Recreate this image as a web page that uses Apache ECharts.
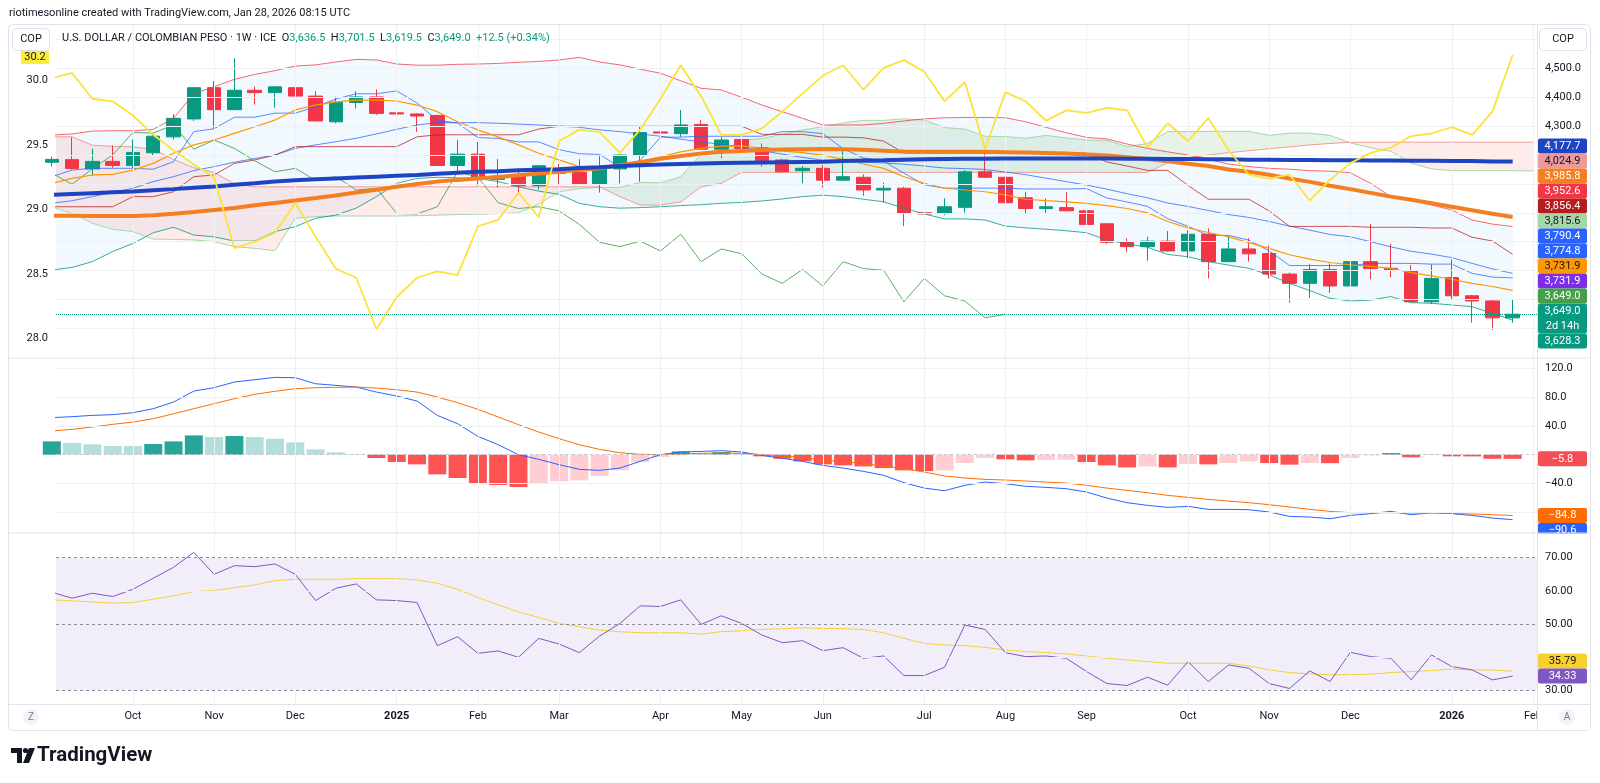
<!DOCTYPE html>
<html>
<head>
<meta charset="utf-8">
<title>USD/COP weekly</title>
<script src="https://cdn.jsdelivr.net/npm/echarts@6.0.0/dist/echarts.min.js"></script>
<style>
html,body{margin:0;padding:0;background:#ffffff;}
#chart{width:1600px;height:783px;}
</style>
</head>
<body>
<div id="chart"></div>
<script>
// ================= DATA (weekly bars from 2024-09-09) =================
const firstWeekUTC = Date.UTC(2024, 8, 9);
const opens  = [4175,4184,4152,4178,4164,4208,4263,4325,4433,4357,4424,4416,4433,4404,4315,4382,4401,4346,4342,4337,4164,4203,4116,4127,4094,4154,4140,4099,4152,4200,4280,4274,4306,4220,4254,4225,4183,4146,4154,4113,4123,4079,4085,4000,3998,4019,4142,4123,4052,4015,4018,4007,3962,3900,3883,3902,3868,3926,3831,3875,3859,3788,3756,3804,3747,3831,3808,3800,3692,3776,3713,3695,3636.5];
const highs  = [4195,4261,4222,4233,4254,4275,4342,4435,4456,4535,4437,4438,4479,4421,4402,4421,4427,4373,4345,4340,4252,4245,4186,4142,4166,4169,4186,4200,4202,4299,4460,4356,4321,4263,4321,4240,4187,4162,4165,4217,4133,4104,4090,4067,4050,4148,4211,4125,4073,4050,4071,4038,3964,3912,3917,3937,3940,3946,3920,3912,3886,3793,3822,3825,3848,3961,3893,3819,3822,3839,3716,3701,3701.5];
const lows   = [4160,4150,4127,4156,4156,4199,4254,4318,4289,4355,4375,4364,4383,4316,4310,4361,4339,4312,4280,4162,4142,4094,4088,4064,4081,4099,4097,4070,4102,4108,4272,4263,4218,4189,4221,4160,4140,4102,4088,4111,4059,4036,3954,3990,3992,4000,4121,4021,3998,3998,4005,3957,3892,3864,3834,3866,3843,3773,3829,3831,3773,3689,3706,3723,3730,3770,3777,3689,3684,3701,3620,3594,3619.5];
const closes = [4185,4153,4178,4164,4209,4265,4327,4433,4357,4424,4416,4436,4404,4318,4383,4401,4344,4342,4335,4164,4203,4116,4127,4094,4163,4137,4099,4152,4200,4278,4276,4304,4220,4252,4223,4180,4142,4154,4113,4125,4079,4085,3998,3996,4021,4142,4123,4035,4015,4021,4007,3960,3898,3883,3902,3868,3926,3831,3875,3858,3788,3756,3804,3747,3831,3807,3801,3692,3773,3713,3695,3636.5,3649];

// Bollinger Bands
const bbUpper = [4269,4273,4283,4284,4284,4289,4327,4413,4436,4462,4479,4492,4508,4512,4522,4531,4529,4515,4511,4511,4514,4515,4517,4521,4524,4529,4538,4522,4512,4497,4483,4457,4431,4425,4400,4373,4350,4327,4304,4304,4304,4310,4318,4325,4329,4330,4330,4329,4315,4296,4277,4261,4256,4238,4223,4211,4200,4185,4169,4160,4154,4151,4146,4144,4139,4102,4056,4044,4027,4010,3975,3961,3952.6];
const bbBasis = [4033,4042,4056,4070,4085,4108,4125,4146,4160,4175,4188,4200,4223,4235,4246,4258,4273,4289,4304,4312,4312,4312,4310,4307,4304,4300,4296,4287,4281,4273,4265,4255,4245,4237,4228,4215,4203,4192,4182,4178,4175,4173,4168,4162,4155,4153,4150,4141,4132,4120,4108,4096,4082,4066,4052,4034,4022,4008,3994,3984,3970,3954,3940,3925,3917,3900,3882,3867,3857,3845,3825,3806,3790.4];
const bbLower = [3802,3811,3831,3866,3894,3931,3950,3923,3917,3902,3902,3935,3952,3981,3992,4016,4056,4102,4119,4123,4121,4119,4108,4090,4075,4064,4033,4021,4016,4018,4021,4025,4028,4033,4036,4041,4048,4056,4061,4056,4047,4038,4016,3996,3979,3979,3975,3954,3948,3943,3938,3931,3906,3892,3881,3856,3848,3831,3819,3808,3785,3756,3731,3704,3695,3698,3710,3689,3687,3681,3675,3652,3628.3];

// Ichimoku
const tenkan = [4125,4148,4154,4154,4154,4151,4177,4281,4291,4331,4331,4345,4345,4367,4394,4412,4412,4422,4380,4320.5,4310.5,4260.5,4257.5,4245.5,4245.5,4218.5,4204.5,4202,4158,4181.5,4262,4262,4265,4265,4265,4265,4281,4281,4274,4222,4190,4178.5,4137.5,4097,4085.5,4085.5,4085.5,4085.5,4082.5,4082.5,4082.5,4084,4051.5,4037.5,4022.5,3979.5,3953.5,3922,3922,3905.5,3868.5,3817.5,3817.5,3817.5,3817.5,3825,3825,3825,3822.5,3822.5,3790.5,3777.5,3774.8];
const kijun  = [4021,4021,4021,4021,4056,4056,4073,4125,4131,4171,4183,4200,4229,4229,4229,4229,4229,4229,4263,4270,4270,4270,4270,4270,4290,4299.5,4299.5,4299.5,4299.5,4299.5,4299.5,4299.5,4299.5,4299.5,4299.5,4271.5,4271.5,4271.5,4262,4262,4259.5,4248,4207,4207,4207,4207,4207,4207,4207,4207,4207,4207,4176,4162,4147,4147,4095,4047,4047,4047,4006.5,3953,3953,3953,3953,3950,3950,3950,3947.5,3947.5,3915.5,3902.5,3856.4];
const senkouA = [4021,3998,3964,3943,3935,3909,3908,3906,3900,3883,3877,3869,3981,3987,3989,3989,3989,3989,3990,3992,3994,3995,3997,4000,4030,4073,4084,4088,4088,4105,4104,4125,4203,4211,4251,4257,4272,4287,4298,4311,4320,4320,4325,4321,4295,4290,4265,4264,4258,4268,4259,4252,4251,4229,4240,4281,4281,4282,4282,4282,4268,4276,4276,4268,4242,4225,4213,4172,4152,4146,4146,4146,4146,4145];
const senkouB = [4263,4263,4234,4230,4228,4220,4185,4156,4140,4100,4090,4090,4090,4090,4090,4090,4090,4090,4090,4090,4090,4090,4090,4090,4090,4090,4090,4090,4056,4027,4027,4038,4090,4102,4140,4140,4140,4140,4140,4140,4140,4140,4140,4140,4140,4140,4140,4140,4140,4140,4140,4140,4140,4140,4140,4173,4189,4200,4208,4215,4222,4228,4235,4240,4244,4244.5,4244.5,4244.5,4244.5,4244.5,4244.5,4244.5,4244.5,4244.5];
const senkouANow = 3815.6, senkouBNow = 4024.9;
const laggingShift = 25;

// Moving averages
const emaShort = [4102,4119,4131,4133,4148,4171,4206,4235,4252,4275,4298,4321,4356,4373,4384,4390,4390,4387,4373,4350,4315,4287,4263,4235,4206,4183,4160,4154,4160,4177,4194,4211,4223,4231,4232,4223,4214,4208,4200,4185,4169,4154,4125,4102,4085,4079,4073,4062,4047,4042,4038,4033,4025,4015,4000,3970,3948,3932,3917,3897,3877,3855,3840,3828,3820,3815,3808,3793,3782,3770,3756,3745,3731.9];
const extraMaNow = 3731.9;
const maMid  = [3990,3990,3989,3989,3989,3992,3997,4003,4010,4017,4026,4034,4043,4051,4060,4070,4080,4090,4100,4108,4114,4119,4124,4130,4136,4142,4148,4154,4165,4175,4187,4197,4205,4211,4214,4217,4219,4220,4221,4220,4218,4215,4212,4211,4211,4211,4211,4210,4209,4207,4205,4202,4198,4192,4186,4178,4170,4162,4150,4142,4132,4119,4107,4094,4082,4069,4056,4045,4033,4021,4009,3997,3985.8];
const maLong = [4062,4065,4068,4071,4074,4078,4082,4087,4091,4097,4102,4108,4113,4116,4119,4122,4125,4128,4131,4135,4139,4142,4144,4147,4149,4151,4155,4158,4162,4165,4167,4169,4171,4172,4173,4174,4175,4176,4177,4179,4181,4182,4184,4185,4186,4187,4187,4188,4188,4188,4188,4188,4188,4187,4187,4186,4186,4185,4185,4184,4184,4183,4183,4182,4182,4181,4181,4180,4180,4179,4179,4178,4177.7];

// Comparison line (left scale)
const compLine = [30.02,30.06,29.86,29.84,29.73,29.58,29.46,29.35,29.25,28.70,28.75,28.82,29.05,28.79,28.54,28.47,28.07,28.32,28.47,28.52,28.49,28.87,28.92,29.13,28.94,29.53,29.62,29.60,29.44,29.62,29.86,30.12,29.88,29.58,29.58,29.63,29.76,29.90,30.04,30.12,29.93,30.10,30.16,30.07,29.84,29.99,29.47,29.91,29.84,29.69,29.77,29.75,29.79,29.77,29.48,29.67,29.53,29.71,29.46,29.27,29.24,29.27,29.07,29.23,29.36,29.44,29.48,29.57,29.59,29.64,29.58,29.76,30.2];

// MACD
const macdLine = [51.6,53,54.8,55.8,58.5,64.1,73.4,88.7,93.4,101.3,104.5,107.8,107.3,98.9,96.6,94.3,87.3,81.8,74.8,54.8,43.2,25.6,13.9,0,-6.5,-13.9,-20.4,-21.8,-18.6,-9.3,0,3.7,4.6,5.6,3.7,-0.9,-5,-9.3,-14.9,-18.6,-23.2,-28.8,-39,-46.5,-50.2,-42.7,-38.1,-40.4,-44.1,-45.5,-47.4,-52,-60.4,-66.9,-70.6,-73.4,-72,-76.2,-76.2,-76.7,-79.9,-86,-86.9,-89.2,-84.6,-82.2,-79,-83.6,-80.8,-82.2,-84.6,-88.3,-90.6];
const signalLine = [33,35.3,38.6,42.3,45.5,50.2,57.1,64.1,71.1,78.1,84.1,88.3,92,93.4,93.8,94.3,92.9,90.6,87.3,80.4,72.5,63.2,52.5,41.8,31.6,22.3,13.9,7.4,2.8,0.5,0,0.9,1.9,2.3,1.9,0,-1.5,-3.7,-7.9,-9.3,-12.5,-15.8,-19.5,-24.2,-29.7,-32.5,-34.4,-35.3,-36.7,-38.1,-39.5,-42.7,-46.5,-49.7,-53,-56.7,-59.5,-62.3,-64.6,-66.9,-69.7,-72.9,-76.2,-79,-80.8,-80.8,-80.8,-81.3,-81.3,-81.8,-82.7,-83.6,-84.8];
const histogram = [18.6,16.3,14.4,12.1,12.0,14.9,18.6,26.9,24.6,26,24.6,22.3,17.2,7.4,3.3,0.9,-4.6,-10.2,-13.5,-27.4,-32.5,-40,-42.3,-45.1,-40,-37.2,-35.8,-29.7,-21.8,-10.2,-3.3,4.6,2.3,3.7,1.9,-2.3,-5.6,-9.3,-13.5,-14.9,-16.3,-18.6,-21.8,-22.8,-21.8,-11.6,-4.6,-6.5,-7.9,-7.5,-7.0,-10.2,-14.9,-17.7,-16.3,-17.7,-13.0,-13.5,-11.6,-9.3,-11.6,-13.9,-11.6,-11.8,-4.6,-1.0,2.3,-3.7,0.4,-2.3,-2.4,-5.7,-5.8];

// RSI
const rsiLine = [59.6,57.8,59.3,58.3,60.5,63.8,67.1,71.6,65,67.6,67.3,68.1,65,57.1,60.8,62.1,57.3,57.1,56.5,43.5,46.2,41.2,41.9,40,45.7,44,41.4,46.4,50.2,55.5,55.3,57.3,49.9,52.5,50.2,46.7,44.4,45,42,42.9,39.7,40.4,34.5,34.5,37,49.7,48.4,41.4,40.2,40.4,39.7,35.7,32.1,31.5,34,31.6,38.7,32.7,37.7,36.7,32.1,30.6,35.9,32.7,41.5,40.2,39.7,33.2,40.7,37.2,36.2,33.2,34.33];
const rsiMaLine = [57.3,57,56.7,56.3,56.5,57.5,58.5,59.8,60.1,61,61.8,63.1,63.5,63.5,63.5,63.7,63.7,63.7,63.3,62.3,60.5,58,55.8,53.7,52,50.2,49.2,48.2,47.7,47.4,47.4,47.4,47,47.7,48,48.4,48.6,48.9,48.7,48.6,48.4,47.4,45.7,44.2,43.7,43.5,43,42.2,41.7,41.4,41,40.4,39.7,39.2,38.7,38.2,38.2,38.2,38.2,37.4,36.2,35.4,35,34.7,34.8,34.9,35.4,35.7,36,36.4,36.2,36.2,35.79];

// Axis tick labels
const priceTicks = [4300, 4400, 4500];
const priceGrid = [3600, 3700, 3800, 3900, 4000, 4100, 4200, 4300, 4400, 4500, 4600];
const compTicks = [28, 28.5, 29, 29.5, 30];
const macdTicks = [120, 80, 40, -40];
const macdGrid = [120, 80, 40, -40, -80];
const rsiTicks = [70, 60, 50, 30];
const rsiGrid = [60, 40];
const rsiBands = [70, 50, 30];
const countdownText = '2d 14h';

// ================= BUILD =================
const FONT = 'Roboto, "Noto Sans", Arial, sans-serif';
const TXT = '#131722';
const N = closes.length;
const X_MIN = 0.207, X_MAX = 73.2;
const WEEK = 7 * 86400000;
const monthAbbr = ['Jan','Feb','Mar','Apr','May','Jun','Jul','Aug','Sep','Oct','Nov','Dec'];
const monthTicks = [], monthText = {};
for (let i = 1; i <= Math.floor(X_MAX); i++) {
  const d = new Date(firstWeekUTC + i * WEEK), p = new Date(firstWeekUTC + (i - 1) * WEEK);
  if (d.getUTCMonth() !== p.getUTCMonth()) {
    monthTicks.push(i);
    monthText[i] = d.getUTCMonth() === 0 ? String(d.getUTCFullYear()) : monthAbbr[d.getUTCMonth()];
  }
}
const fmt1 = v => v.toLocaleString('en-US', {minimumFractionDigits: 1, maximumFractionDigits: 1});
const fmtSigned1 = v => (v < 0 ? '\u2212' : '') + Math.abs(v).toFixed(1);
const pts = arr => arr.map((v, i) => [i, v]);

const chart = echarts.init(document.getElementById('chart'), null, {renderer: 'canvas'});

function xAx(gi, show) {
  return {
    type: 'value', gridIndex: gi, min: X_MIN, max: X_MAX,
    axisLine: {show: false}, axisTick: {show: false}, splitLine: {show: false},
    axisLabel: show ? {
      show: true, customValues: monthTicks, margin: 7, color: TXT, fontSize: 11, fontFamily: FONT,
      formatter: v => { const t = monthText[Math.round(v)] || ''; return /^\d{4}$/.test(t) ? '{b|' + t + '}' : t; },
      rich: {b: {fontWeight: 'bold', fontSize: 11, color: TXT, fontFamily: FONT}}
    } : {show: false}
  };
}
function yAx(gi, pos, min, max, ticks, fmt) {
  return {
    type: 'value', gridIndex: gi, position: pos, min, max, scale: true,
    axisLine: {show: false}, axisTick: {show: false}, splitLine: {show: false},
    axisLabel: {show: true, customValues: ticks, formatter: fmt, color: TXT, fontSize: 11, fontFamily: FONT, margin: 8}
  };
}
function gridHelper(xi, yi, yVals, anchorY) {
  return {
    type: 'line', xAxisIndex: xi, yAxisIndex: yi, data: [[X_MIN + 1, anchorY]], symbol: 'none',
    lineStyle: {opacity: 0}, silent: true, z: 0, animation: false,
    markLine: {
      silent: true, symbol: ['none', 'none'], label: {show: false}, animation: false,
      lineStyle: {color: '#eef0f4', width: 1, type: 'solid'},
      data: yVals.map(v => ({yAxis: v})).concat(monthTicks.map(t => ({xAxis: t})))
    }
  };
}
function line(name, arr, color, width, extra) {
  return Object.assign({
    name, type: 'line', xAxisIndex: 0, yAxisIndex: 0, data: pts(arr), symbol: 'none', showSymbol: false,
    lineStyle: {color, width}, silent: true, animation: false, z: 4, clip: true
  }, extra || {});
}
function cloudRender(a, b, posFill, negFill) {
  return function (params, api) {
    const runs = [];
    let up = [], dn = [], sign = null;
    for (let i = 0; i < a.length; i++) {
      const d = a[i] - b[i], s = d >= 0;
      if (sign !== null && s !== sign) {
        const d0 = a[i - 1] - b[i - 1];
        const t = d0 / (d0 - d);
        const x = i - 1 + t, y = a[i - 1] + (a[i] - a[i - 1]) * t;
        up.push([x, y]); dn.push([x, y]);
        runs.push({pts: up.concat(dn.slice().reverse()), pos: sign});
        up = [[x, y]]; dn = [[x, y]];
      }
      sign = s;
      up.push([i, a[i]]); dn.push([i, b[i]]);
    }
    runs.push({pts: up.concat(dn.slice().reverse()), pos: sign});
    return {type: 'group', children: runs.map(r => ({
      type: 'polygon', shape: {points: r.pts.map(p => api.coord(p))},
      style: {fill: r.pos ? posFill : negFill}
    }))};
  };
}
const histColors = histogram.map((v, i) => {
  const p = i > 0 ? histogram[i - 1] : (v >= 0 ? v - 1 : v + 1);
  if (v >= 0) return v > p ? '#26a69a' : '#b2dfdb';
  return v < p ? '#ff5252' : '#ffcdd2';
});

const MAIN_TOP = 25, MAIN_H = 332.3, MACD_TOP = 358, MACD_H = 175, RSI_TOP = 533, RSI_H = 171;

const option = {
  animation: false,
  backgroundColor: '#ffffff',
  textStyle: {fontFamily: FONT},
  grid: [
    {left: 56, right: 63, top: MAIN_TOP, height: MAIN_H},
    {left: 56, right: 63, top: MACD_TOP, height: MACD_H},
    {left: 56, right: 63, top: RSI_TOP, height: RSI_H}
  ],
  xAxis: [xAx(0, false), xAx(1, false), xAx(2, true)],
  yAxis: [
    yAx(0, 'right', 3500, 4650, priceTicks, v => fmt1(v)),
    yAx(0, 'left', 27.8525, 30.4325, compTicks, v => v.toFixed(1)),
    yAx(1, 'right', -109.13, 134.77, macdTicks, v => fmtSigned1(v)),
    yAx(2, 'right', 25.93, 77.44, rsiTicks, v => v.toFixed(2))
  ],
  series: [
    gridHelper(0, 0, priceGrid, 4000),
    gridHelper(1, 2, macdGrid, 0),
    gridHelper(2, 3, rsiGrid, 50),
    // Bollinger fill
    {
      type: 'custom', xAxisIndex: 0, yAxisIndex: 0, clip: true, silent: true, z: 1, animation: false,
      data: [[10, 4000]], encode: {x: 0, y: 1},
      renderItem: (params, api) => ({
        type: 'polygon',
        shape: {points: bbUpper.map((v, i) => api.coord([i, v])).concat(bbLower.map((v, i) => api.coord([i, v])).reverse())},
        style: {fill: 'rgba(33,150,243,0.06)'}
      })
    },
    // Ichimoku cloud
    {
      type: 'custom', xAxisIndex: 0, yAxisIndex: 0, clip: true, silent: true, z: 1, animation: false,
      data: [[10, 4000]], encode: {x: 0, y: 1},
      renderItem: cloudRender(senkouA, senkouB, 'rgba(67,160,71,0.13)', 'rgba(244,67,54,0.10)')
    },
    line('Leading Span A', senkouA, '#a5d6a7', 1, {z: 2}),
    line('Leading Span B', senkouB, '#ef9a9a', 1, {z: 2}),
    {
      name: 'USD/COP', type: 'candlestick', xAxisIndex: 0, yAxisIndex: 0, z: 3, clip: true, silent: true,
      barWidth: 14, animation: false,
      data: opens.map((o, i) => [i, o, closes[i], lows[i], highs[i]]),
      encode: {x: 0, y: [1, 2, 3, 4]},
      itemStyle: {color: '#089981', color0: '#f23645', borderColor: '#089981', borderColor0: '#f23645', borderWidth: 1},
      markLine: {
        silent: true, symbol: ['none', 'none'], label: {show: false}, animation: false,
        lineStyle: {color: '#089981', type: 'dotted', width: 1},
        data: [{yAxis: closes[N - 1]}]
      }
    },
    line('BB Upper', bbUpper, '#f23645', 1, {lineStyle: {color: '#f23645', width: 1, opacity: 0.75}}),
    line('BB Lower', bbLower, '#089981', 1, {lineStyle: {color: '#089981', width: 1, opacity: 0.8}}),
    line('BB Basis', bbBasis, '#2962ff', 1, {lineStyle: {color: '#2962ff', width: 1, opacity: 0.75}}),
    line('Conversion', tenkan, '#2962ff', 1, {lineStyle: {color: '#2962ff', width: 1, opacity: 0.75}}),
    line('Base', kijun, '#b71c1c', 1, {lineStyle: {color: '#b71c1c', width: 1, opacity: 0.75}}),
    {
      name: 'Lagging Span', type: 'line', xAxisIndex: 0, yAxisIndex: 0, symbol: 'none', silent: true, z: 4,
      animation: false, clip: true, lineStyle: {color: '#43a047', width: 1, opacity: 0.85},
      data: closes.map((c, i) => [i - laggingShift, c])
    },
    line('EMA', emaShort, '#ff9800', 1.2),
    line('MA mid', maMid, '#f57f20', 4, {z: 5}),
    line('MA long', maLong, '#1e44c4', 4, {z: 5}),
    line('Comparison', compLine, '#fbe337', 1.8, {yAxisIndex: 1, z: 6}),
    // MACD
    {
      name: 'Histogram', type: 'bar', xAxisIndex: 1, yAxisIndex: 2, barWidth: 18, silent: true, animation: false, z: 2,
      data: histogram.map((v, i) => ({value: [i, v], itemStyle: {color: histColors[i]}})),
      markLine: {
        silent: true, symbol: ['none', 'none'], label: {show: false}, animation: false,
        lineStyle: {color: '#c3c6ce', type: [3, 3], width: 1}, data: [{yAxis: 0}]
      }
    },
    line('MACD', macdLine, '#2962ff', 1, {xAxisIndex: 1, yAxisIndex: 2}),
    line('Signal', signalLine, '#ff6d00', 1, {xAxisIndex: 1, yAxisIndex: 2}),
    // RSI
    {
      name: 'RSI', type: 'line', xAxisIndex: 2, yAxisIndex: 3, data: pts(rsiLine), symbol: 'none', silent: true,
      animation: false, z: 4, lineStyle: {color: '#7e57c2', width: 1},
      markArea: {silent: true, itemStyle: {color: 'rgba(126,87,194,0.10)'}, data: [[{xAxis: X_MIN, yAxis: 30}, {xAxis: X_MAX, yAxis: 70}]]},
      markLine: {
        silent: true, symbol: ['none', 'none'], label: {show: false}, animation: false,
        lineStyle: {color: '#8a8d96', type: [3, 3], width: 1}, data: rsiBands.map(v => ({yAxis: v}))
      }
    },
    line('RSI MA', rsiMaLine, '#f5cf3a', 1, {xAxisIndex: 2, yAxisIndex: 3, z: 3})
  ]
};
chart.setOption(option);

// ================= overlays: price-scale tags, header, frame =================
function layoutTags(items, lo, hi, anchorKey) {
  items.sort((a, b) => a.y - b.y);
  const ai = items.findIndex(it => it.key === anchorKey);
  if (ai >= 0) {
    items[ai].top = items[ai].y - items[ai].h / 2;
    for (let k = ai - 1; k >= 0; k--) items[k].top = Math.min(items[k].y - items[k].h / 2, items[k + 1].top - items[k].h);
    for (let k = ai + 1; k < items.length; k++) items[k].top = Math.max(items[k].y - items[k].h / 2, items[k - 1].top + items[k - 1].h);
    return items;
  }
  let pb = -Infinity;
  items.forEach(it => { it.top = Math.max(it.y - it.h / 2, pb); pb = it.top + it.h; });
  let nt = hi;
  for (let k = items.length - 1; k >= 0; k--) { const it = items[k]; if (it.top + it.h > nt) it.top = nt - it.h; nt = it.top; }
  pb = lo;
  items.forEach(it => { if (it.top < pb) it.top = pb; pb = it.top + it.h; });
  return items;
}
const ROW = 15;
function mk(yAxisIndex, v, bg, fg, lines, key) {
  return {y: chart.convertToPixel({yAxisIndex}, v), h: ROW * lines.length, bg, fg, lines, key};
}
const last = N - 1;
const mainTags = layoutTags([
  mk(0, maLong[last], '#1e44c4', '#fff', [fmt1(maLong[last])]),
  mk(0, senkouBNow, '#ef9a9a', TXT, [fmt1(senkouBNow)]),
  mk(0, maMid[last], '#f57f20', '#fff', [fmt1(maMid[last])]),
  mk(0, bbUpper[last], '#f23645', '#fff', [fmt1(bbUpper[last])]),
  mk(0, kijun[last], '#b71c1c', '#fff', [fmt1(kijun[last])]),
  mk(0, senkouANow, '#a5d6a7', TXT, [fmt1(senkouANow)]),
  mk(0, bbBasis[last], '#2962ff', '#fff', [fmt1(bbBasis[last])]),
  mk(0, tenkan[last], '#2962ff', '#fff', [fmt1(tenkan[last])]),
  mk(0, emaShort[last], '#ff9800', TXT, [fmt1(emaShort[last])]),
  mk(0, extraMaNow, '#7b2ee6', '#fff', [fmt1(extraMaNow)]),
  mk(0, closes[last], '#43a047', '#fff', [fmt1(closes[last])]),
  mk(0, closes[last], '#089981', '#fff', [fmt1(closes[last]), countdownText]),
  mk(0, bbLower[last], '#089981', '#fff', [fmt1(bbLower[last])])
], 52, 348.5, null);
const macdTags = layoutTags([
  mk(2, histogram[last], '#f44e54', '#fff', [fmtSigned1(histogram[last])], 'h'),
  mk(2, signalLine[last], '#ff6d00', '#fff', [fmtSigned1(signalLine[last])], 's'),
  mk(2, macdLine[last], '#2962ff', '#fff', [fmtSigned1(macdLine[last])], 'm')
], 360, 560, 's');
const rsiTags = layoutTags([
  mk(3, rsiMaLine[last], '#f7d12e', TXT, [rsiMaLine[last].toFixed(2)], 'ma'),
  mk(3, rsiLine[last], '#7e57c2', '#fff', [rsiLine[last].toFixed(2)], 'r')
], 536, 700, 'r');

const G = [];
function tagEls(t, x, w) {
  G.push({type: 'rect', z: 100, silent: true, shape: {x, y: t.top, width: w, height: t.h, r: 2}, style: {fill: t.bg}});
  G.push({type: 'text', z: 101, silent: true, x: x + w / 2, y: t.top + t.h / 2,
    style: {text: t.lines.join('\n'), fill: t.fg, font: '11px ' + FONT, align: 'center', verticalAlign: 'middle', lineHeight: ROW}});
}
mainTags.concat(macdTags, rsiTags).forEach(t => tagEls(t, 1538, 49));
// covers where tags / labels overflow a pane edge
G.push({type: 'rect', z: 102, silent: true, shape: {x: 1538, y: 533.5, width: 52, height: 12}, style: {fill: '#ffffff'}});
G.push({type: 'rect', z: 102, silent: true, shape: {x: 1538, y: 705.5, width: 52, height: 24}, style: {fill: '#ffffff'}});
// left scale tag for comparison line
const cy = chart.convertToPixel({yAxisIndex: 1}, compLine[last]);
const ctop = Math.max(cy - 7, 51);
G.push({type: 'rect', z: 100, silent: true, shape: {x: 21, y: ctop, width: 28, height: 13}, style: {fill: '#ffeb3b'}});
G.push({type: 'text', z: 101, silent: true, x: 35, y: ctop + 6.5, style: {text: compLine[last].toFixed(1), fill: TXT, font: '11px ' + FONT, align: 'center', verticalAlign: 'middle'}});

// frame & separators
const SEP = '#e0e3eb';
G.push({type: 'rect', z: 90, silent: true, shape: {x: 8.5, y: 24.5, width: 1582, height: 706, r: 4}, style: {fill: 'none', stroke: SEP, lineWidth: 1}});
[MACD_TOP, RSI_TOP, 704.5].forEach(y => G.push({type: 'line', z: 103, silent: true, shape: {x1: 8.5, y1: y, x2: 1590.5, y2: y}, style: {stroke: SEP, lineWidth: 1}}));
G.push({type: 'line', z: 103, silent: true, shape: {x1: 1537.5, y1: 24.5, x2: 1537.5, y2: 730.5}, style: {stroke: SEP, lineWidth: 1}});

// header
G.push({type: 'text', z: 100, silent: true, x: 9, y: 13, style: {text: 'riotimesonline created with TradingView.com, Jan 28, 2026 08:15 UTC', fill: TXT, font: '11px ' + FONT, verticalAlign: 'middle'}});
const chg = closes[last] - closes[last - 1];
const pct = chg / closes[last - 1] * 100;
G.push({type: 'text', z: 100, silent: true, x: 62, y: 38, style: {
  text: '{t|U.S. DOLLAR / COLOMBIAN PESO · 1W · ICE}  {k|O}{v|' + fmt1(opens[last]) + '}  {k|H}{v|' + fmt1(highs[last]) + '}  {k|L}{v|' + fmt1(lows[last]) + '}  {k|C}{v|' + fmt1(closes[last]) + '}  {v|' + (chg >= 0 ? '+' : '\u2212') + Math.abs(chg).toFixed(1) + ' (' + (pct >= 0 ? '+' : '\u2212') + Math.abs(pct).toFixed(2) + '%)}',
  verticalAlign: 'middle', font: '11px ' + FONT,
  rich: {t: {fill: TXT, font: '11px ' + FONT}, k: {fill: TXT, font: '11px ' + FONT}, v: {fill: '#089981', font: '11px ' + FONT}}
}});
// COP boxes
[[12.5, 37], [1539.5, 47]].forEach(([x, w]) => {
  G.push({type: 'rect', z: 100, silent: true, shape: {x, y: 28.5, width: w, height: 22, r: 4}, style: {fill: '#ffffff', stroke: SEP, lineWidth: 1}});
  G.push({type: 'text', z: 101, silent: true, x: x + w / 2, y: 39.5, style: {text: 'COP', fill: TXT, font: '11px ' + FONT, align: 'center', verticalAlign: 'middle'}});
});
// time axis corner buttons
[[31, 'Z'], [1567, 'A']].forEach(([x, s]) => {
  G.push({type: 'circle', z: 104, silent: true, shape: {cx: x, cy: 717, r: 8}, style: {fill: '#f0f3fa'}});
  G.push({type: 'text', z: 105, silent: true, x, y: 717, style: {text: s, fill: '#787b86', font: '10px ' + FONT, align: 'center', verticalAlign: 'middle'}});
});
// TradingView logo
G.push({type: 'polygon', z: 100, silent: true, shape: {points: [[11, 748], [22, 748], [22, 763], [17, 763], [17, 753], [11, 753]]}, style: {fill: TXT}});
G.push({type: 'circle', z: 100, silent: true, shape: {cx: 25.5, cy: 750.5, r: 2.6}, style: {fill: TXT}});
G.push({type: 'polygon', z: 100, silent: true, shape: {points: [[29, 748], [35, 748], [29, 763], [23, 763]]}, style: {fill: TXT}});
G.push({type: 'text', z: 100, silent: true, x: 37, y: 755.5, style: {text: 'TradingView', fill: TXT, font: 'bold 20.5px ' + FONT, verticalAlign: 'middle'}});

chart.setOption({graphic: G});
</script>
</body>
</html>
